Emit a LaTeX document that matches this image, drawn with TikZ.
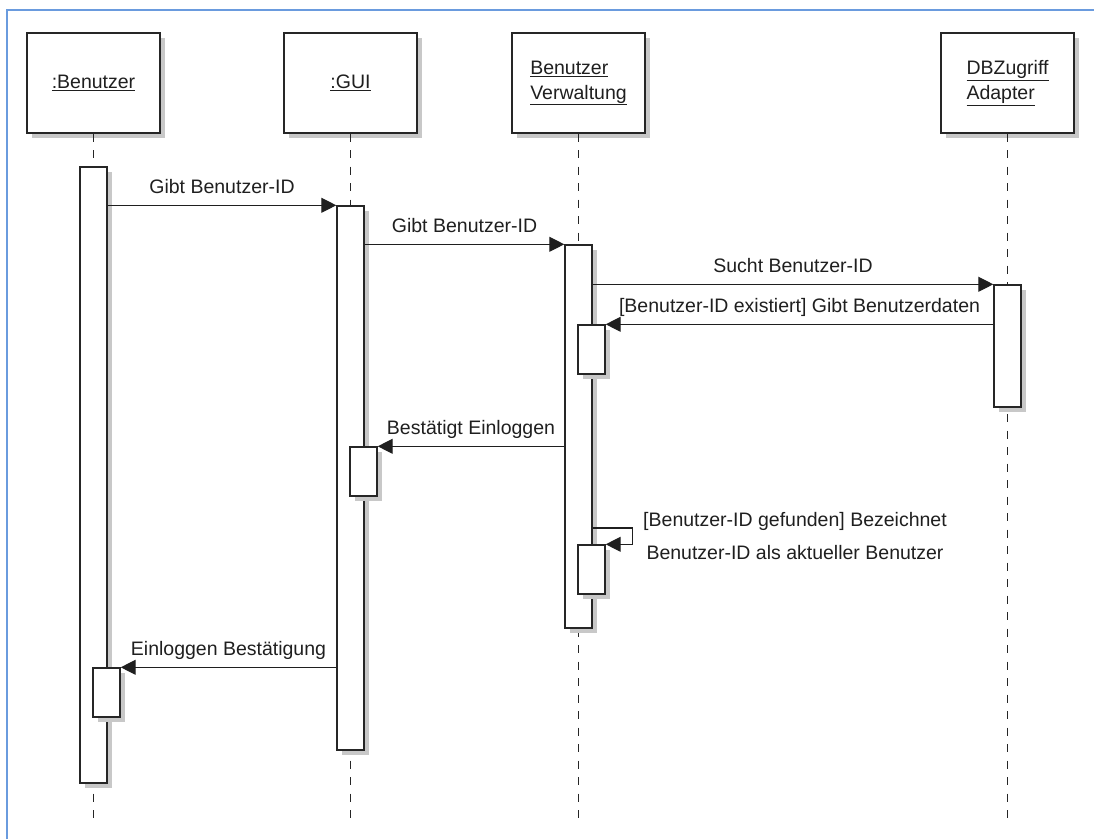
\documentclass[tikz,border=0pt]{standalone}
\usepackage{fontspec}
\setmainfont{Liberation Sans}
\usetikzlibrary{arrows.meta,shadows}

\definecolor{framebl}{RGB}{106,155,222}
\definecolor{shadowgr}{RGB}{200,200,200}

\tikzset{
  boxshadow/.style={drop shadow={shadow xshift=5pt, shadow yshift=-5pt, fill=shadowgr, opacity=1}},
  headbox/.style={draw=black!85, line width=1.4pt, fill=white, minimum width=133pt,
    minimum height=100pt, align=left, boxshadow},
  actbar/.style={draw=black!85, line width=1.4pt, fill=white, minimum width=27pt,
    inner sep=0pt, boxshadow},
  lifeline/.style={draw=black!85, line width=1.4pt, dash pattern=on 8pt off 8.5pt},
  msg/.style={draw=black!88, line width=1.2pt, -{Triangle[length=15pt,width=15pt]}},
  msglabel/.style={midway, anchor=base, yshift=12pt, inner sep=0pt},
}

\begin{document}
\begin{tikzpicture}[x=1pt, y=-1pt, font=\fontsize{19.5}{25}\selectfont, text=black!88]
  \useasboundingbox (0,0) rectangle (1094,839);

  % Frame
  \draw[framebl, line width=2pt] (7,839) -- (7,10) -- (1094,10);

  % Objects
  \node[headbox] (usr) at (93.5,83)   {\underline{:Benutzer}};
  \node[headbox] (gui) at (350.5,83)  {\underline{:GUI}};
  \node[headbox] (ver) at (578.5,83)  {\underline{Benutzer}\\\underline{Verwaltung}};
  \node[headbox] (db)  at (1007.5,83) {\underline{DBZugriff}\\\underline{Adapter}};

  % Lifelines
  \coordinate (usrend) at (93.5,818);
  \coordinate (guiend) at (350.5,818);
  \coordinate (verend) at (578.5,818);
  \coordinate (dbend)  at (1007.5,818);
  \draw[lifeline] (usr.south) -- (usrend);
  \draw[lifeline] (gui.south) -- (guiend);
  \draw[lifeline] (ver.south) -- (verend);
  \draw[lifeline] (db.south)  -- (dbend);

  % Activations
  \node[actbar, minimum height=616pt] (usr1) at (93.5,475)   {};
  \node[actbar, minimum height=544pt] (gui1) at (350.5,478)  {};
  \node[actbar, minimum height=383pt] (ver1) at (578.5,436.5) {};
  \node[actbar, minimum height=122pt] (db1)  at (1007.5,346) {};
  \node[actbar, minimum height=49pt]  (usr2) at (106.5,692.5) {};
  \node[actbar, minimum height=49pt]  (gui2) at (363.5,471.5) {};
  \node[actbar, minimum height=49pt]  (ver2) at (591.5,349.5) {};
  \node[actbar, minimum height=49pt]  (ver3) at (591.5,569.5) {};

  % Messages
  \draw[msg] (usr1.east |- gui1.north) -- (gui1.north west)
    node[msglabel] {Gibt Benutzer-ID};
  \draw[msg] (gui1.east |- ver1.north) -- (ver1.north west)
    node[msglabel] {Gibt Benutzer-ID};
  \draw[msg] (ver1.east |- db1.north) -- (db1.north west)
    node[msglabel] {Sucht Benutzer-ID};
  \draw[msg] (db1.west |- ver2.north) -- (ver2.north east)
    node[msglabel] {[Benutzer-ID existiert] Gibt Benutzerdaten};
  \draw[msg] (ver1.west |- gui2.north) -- (gui2.north east)
    node[msglabel] {Bestätigt Einloggen};
  \draw[msg] (ver1.east |- 0,528) -- ++(40,0) |- (ver3.north east);
  \node[align=center, font=\fontsize{19.5}{33}\selectfont] (selflbl) at (795,536)
    {[Benutzer-ID gefunden] Bezeichnet\\Benutzer-ID als aktueller Benutzer};
  \draw[msg] (gui1.west |- usr2.north) -- (usr2.north east)
    node[msglabel] {Einloggen Bestätigung};
\end{tikzpicture}
\end{document}
